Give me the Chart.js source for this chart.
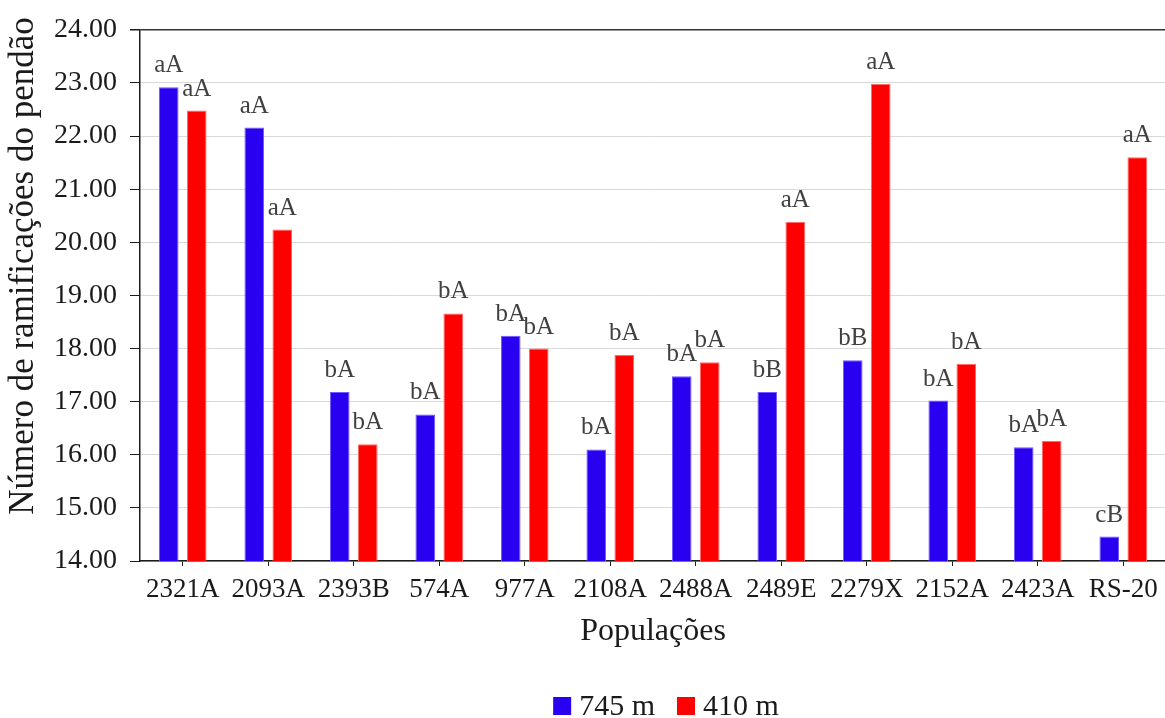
<!DOCTYPE html>
<html>
<head>
<meta charset="utf-8">
<script src="https://cdn.jsdelivr.net/npm/chart.js@4"></script>
<style>
  html, body { margin: 0; padding: 0; background: #fff; overflow: hidden; }
  #wrap { width: 1166px; height: 718px; position: relative; }
</style>
</head>
<body>
<div id="wrap"><canvas id="c"></canvas></div>
<script>
// Populations (x categories)
const populations = ['2321A', '2093A', '2393B', '574A', '977A', '2108A', '2488A', '2489E', '2279X', '2152A', '2423A', 'RS-20'];

// Tassel branch counts per altitude
const values745 = [22.92, 22.16, 17.18, 16.76, 18.24, 16.10, 17.48, 17.18, 17.78, 17.02, 16.14, 14.46];
const values410 = [22.48, 20.24, 16.20, 18.66, 18.00, 17.88, 17.74, 20.38, 22.98, 17.71, 16.26, 21.60];

// Mean comparison letters above each bar
const letters745 = ['aA', 'aA', 'bA', 'bA', 'bA', 'bA', 'bA', 'bB', 'bB', 'bA', 'bA', 'cB'];
const letters410 = ['aA', 'aA', 'bA', 'bA', 'bA', 'bA', 'bA', 'aA', 'aA', 'bA', 'bA', 'aA'];

const seriesNames = ['745 m', '410 m'];
const yTitle = 'Número de ramificações do pendão';
const xTitle = 'Populações';

const SERIF = '"Liberation Serif", "Times New Roman", serif';
const BLUE = '#2a00f0';
const RED = '#ff0000';

// Letters drawn above each bar
const barLetters = {
  id: 'barLetters',
  afterDatasetsDraw(chart) {
    const ctx = chart.ctx;
    const sets = [letters745, letters410];
    ctx.save();
    ctx.font = '25px ' + SERIF;
    ctx.fillStyle = '#404040';
    ctx.textAlign = 'center';
    ctx.textBaseline = 'alphabetic';
    chart.data.datasets.forEach((ds, di) => {
      chart.getDatasetMeta(di).data.forEach((bar, i) => {
        ctx.fillText(sets[di][i], bar.x, bar.y - 15);
      });
    });
    ctx.restore();
  }
};

// Axis titles and bottom legend
const annotations = {
  id: 'annotations',
  afterDraw(chart) {
    const ctx = chart.ctx;
    const area = chart.chartArea;
    ctx.save();
    ctx.fillStyle = '#1a1a1a';
    ctx.textAlign = 'center';
    ctx.textBaseline = 'middle';
    ctx.font = '35px ' + SERIF;
    ctx.translate(24, 266);
    ctx.rotate(-Math.PI / 2);
    ctx.fillText(yTitle, 0, 0);
    ctx.restore();

    ctx.save();
    ctx.fillStyle = '#1a1a1a';
    ctx.textAlign = 'center';
    ctx.textBaseline = 'middle';
    ctx.font = '32px ' + SERIF;
    ctx.fillText(xTitle, (area.left + area.right) / 2, 632);
    ctx.restore();

    // legend
    ctx.save();
    ctx.font = '30px ' + SERIF;
    ctx.textBaseline = 'middle';
    ctx.textAlign = 'left';
    const box = 18, gapBox = 8, gapItem = 22;
    const widths = seriesNames.map(n => ctx.measureText(n).width);
    let total = 0;
    widths.forEach((w, i) => { total += box + gapBox + w + (i < widths.length - 1 ? gapItem : 0); });
    let x = 666 - total / 2;
    const yc = 706;
    chart.data.datasets.forEach((ds, i) => {
      ctx.fillStyle = ds.backgroundColor;
      ctx.fillRect(x, yc - box / 2, box, box);
      x += box + gapBox;
      ctx.fillStyle = '#1a1a1a';
      ctx.fillText(seriesNames[i], x, yc + 1);
      x += widths[i] + gapItem;
    });
    ctx.restore();
  }
};

new Chart(document.getElementById('c'), {
  type: 'bar',
  data: {
    labels: populations,
    datasets: [
      { label: seriesNames[0], data: values745, backgroundColor: BLUE, borderColor: '#6f5cff', borderWidth: 1 },
      { label: seriesNames[1], data: values410, backgroundColor: RED, borderColor: '#ff6a6a', borderWidth: 1 }
    ]
  },
  options: {
    responsive: true,
    maintainAspectRatio: false,
    animation: false,
    layout: { padding: { top: 25, right: 0, bottom: 0, left: 0 } },
    datasets: { bar: { categoryPercentage: 0.655, barPercentage: 0.70 } },
    plugins: {
      legend: { display: false },
      tooltip: { enabled: false }
    },
    scales: {
      y: {
        min: 14,
        max: 24,
        afterFit(scale) { scale.width = 140; },
        ticks: {
          stepSize: 1,
          padding: 13,
          color: '#1a1a1a',
          font: { family: SERIF, size: 28 },
          callback: v => Number(v).toFixed(2)
        },
        grid: {
          color: ctx => (ctx.tick && ctx.tick.value === 24 ? '#333333' : '#d9d9d9'),
          lineWidth: ctx => (ctx.tick && ctx.tick.value === 24 ? 1.5 : 1),
          tickColor: '#1a1a1a',
          tickLength: 10
        },
        border: { color: '#1a1a1a', width: 1.5 }
      },
      x: {
        afterFit(scale) { scale.height = 718 - 561; },
        ticks: {
          padding: 8,
          color: '#1a1a1a',
          font: { family: SERIF, size: 27 },
          maxRotation: 0,
          autoSkip: false
        },
        grid: {
          offset: false,
          drawOnChartArea: false,
          tickColor: '#1a1a1a',
          tickLength: 5
        },
        border: { color: '#1a1a1a', width: 1.5 }
      }
    }
  },
  plugins: [barLetters, annotations]
});
</script>
</body>
</html>
